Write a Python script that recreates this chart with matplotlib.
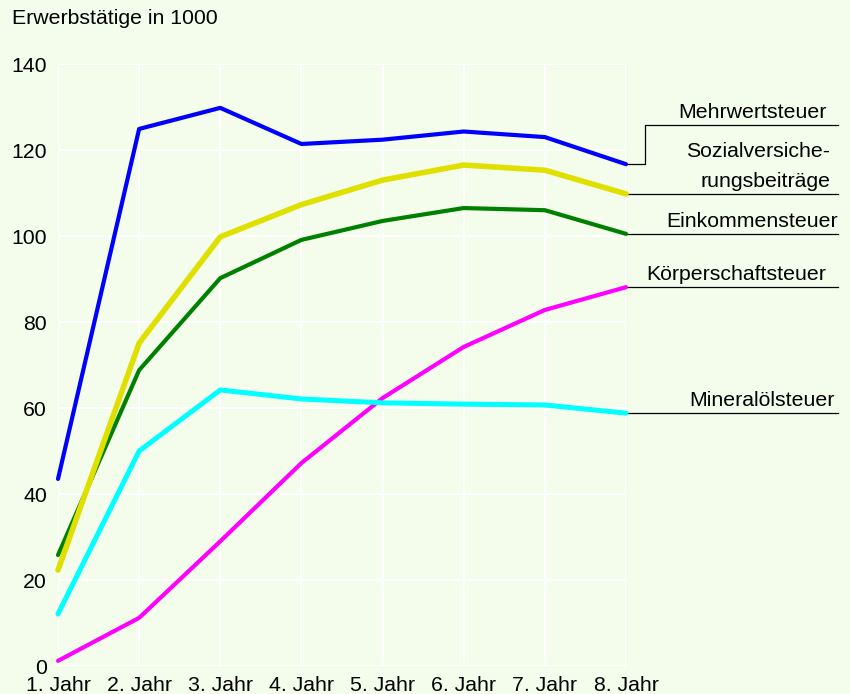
import matplotlib
matplotlib.use("Agg")
import matplotlib.pyplot as plt

# Daten (Erwerbstaetige in 1000)
jahre = ["1. Jahr", "2. Jahr", "3. Jahr", "4. Jahr", "5. Jahr", "6. Jahr", "7. Jahr", "8. Jahr"]
mehrwertsteuer = [43.5, 124.9, 129.8, 121.4, 122.4, 124.3, 123.0, 116.7]
sozialvers = [22.3, 75.1, 99.8, 107.3, 113.0, 116.5, 115.3, 109.8]
einkommensteuer = [25.8, 68.8, 90.2, 99.1, 103.5, 106.5, 106.0, 100.5]
koerperschaft = [1.2, 11.2, 29.0, 47.2, 62.3, 74.2, 82.8, 88.1]
mineraloel = [12.1, 50.0, 64.2, 62.1, 61.2, 60.9, 60.7, 58.8]

bg = "#f4fdec"
fs = 15.3
plt.rcParams['font.family'] = ['Liberation Sans', 'DejaVu Sans']

fig = plt.figure(figsize=(8.5, 6.94), dpi=100, facecolor=bg)
ax = fig.add_axes([58/850, 28/694, 568/850, 602/694], facecolor=bg)

x = range(len(jahre))
serien = [
    (mehrwertsteuer, "#0000ff", 3.0),
    (einkommensteuer, "#008000", 3.0),
    (sozialvers, "#e0e000", 4.0),
    (koerperschaft, "#ff00ff", 3.0),
    (mineraloel, "#00ffff", 3.6),
]
for werte, farbe, lw in serien:
    ax.plot(x, werte, color=farbe, lw=lw, solid_capstyle="round", zorder=3, clip_on=False)

ax.set_xlim(0, 7)
ax.set_ylim(0, 140)
ax.set_yticks(range(0, 141, 20))
ax.set_xticks(list(x))
ax.set_xticklabels(jahre)
ax.grid(True, color="white", lw=1.5)
ax.set_axisbelow(True)
for s in ax.spines.values():
    s.set_visible(False)
ax.tick_params(length=0, labelsize=fs)
ax.tick_params(axis="y", pad=8)
ax.tick_params(axis="x", pad=7)

fig.text(12/850, 1 - 18/694, "Erwerbstätige in 1000", fontsize=fs, va="center", ha="left")

# Beschriftungen rechts mit Fuehrungslinien
x_ende = 9.61
beschriftungen = [
    ("Mehrwertsteuer", mehrwertsteuer[-1], 125.8, 9.47),
    ("Sozialversiche-\nrungsbeiträge", sozialvers[-1], None, 9.52),
    ("Einkommensteuer", einkommensteuer[-1], None, 9.61),
    ("Körperschaftsteuer", koerperschaft[-1], None, 9.47),
    ("Mineralölsteuer", mineraloel[-1], None, 9.57),
]
for text, yend, yknick, xt in beschriftungen:
    if yknick is None:
        ax.plot([7, x_ende], [yend, yend], color="black", lw=0.9, clip_on=False, zorder=2)
        ylab = yend
    else:
        ax.plot([7, 7.234, 7.234, x_ende], [yend, yend, yknick, yknick],
                color="black", lw=0.9, clip_on=False, zorder=2)
        ylab = yknick
    ax.annotate(text, (xt, ylab), xytext=(0, 5), textcoords="offset points",
                ha="right", va="baseline", fontsize=fs, multialignment="right",
                linespacing=1.7, annotation_clip=False)

fig.savefig("out.png", dpi=100, facecolor=bg)
